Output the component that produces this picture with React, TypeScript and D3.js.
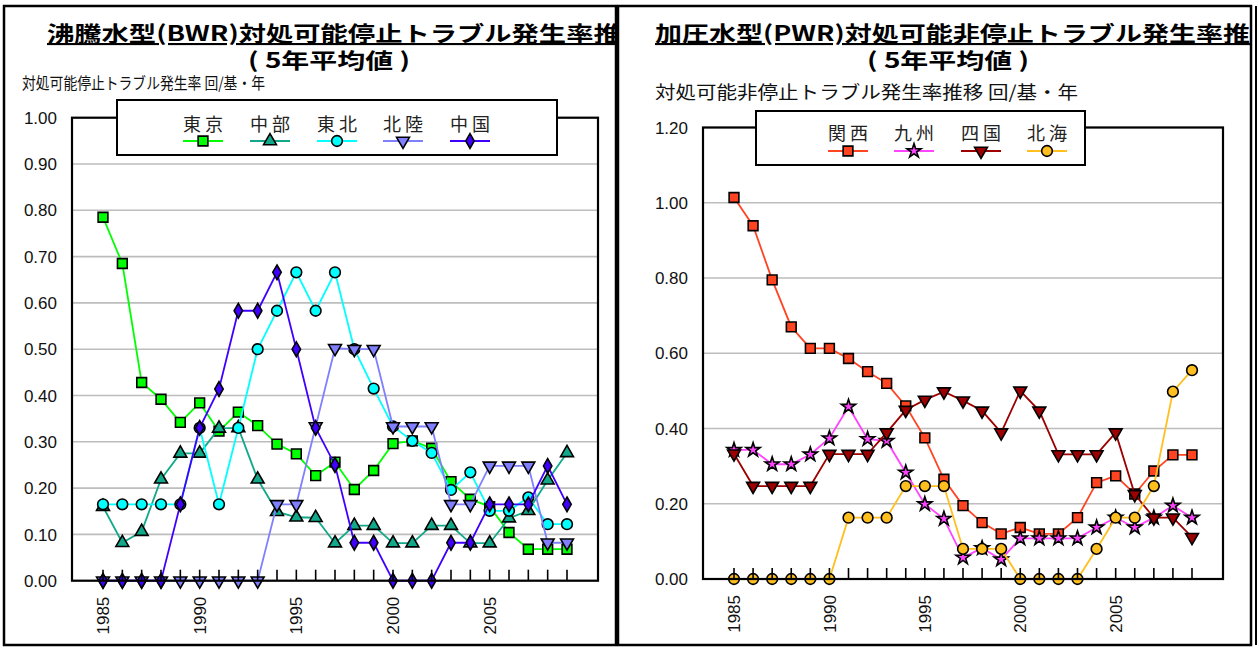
import React from "react";
import * as d3 from "d3";

const years = [1985, 1986, 1987, 1988, 1989, 1990, 1991, 1992, 1993, 1994, 1995, 1996, 1997, 1998, 1999, 2000, 2001, 2002, 2003, 2004, 2005, 2006, 2007, 2008, 2009];
const labelYears = [1985, 1990, 1995, 2000, 2005];

// BWR
const bwrNames = ["東京", "中部", "東北", "北陸", "中国"];
const tokyo = [0.785, 0.685, 0.428, 0.392, 0.342, 0.384, 0.323, 0.364, 0.335, 0.295, 0.274, 0.227, 0.256, 0.197, 0.238, 0.296, 0.302, 0.286, 0.214, 0.176, 0.16, 0.104, 0.068, 0.068, 0.068];
const chubu = [0.16, 0.082, 0.106, 0.219, 0.275, 0.275, 0.329, 0.33, 0.219, 0.149, 0.137, 0.136, 0.081, 0.119, 0.119, 0.081, 0.081, 0.119, 0.119, 0.081, 0.081, 0.135, 0.151, 0.217, 0.276];
const tohoku = [0.165, 0.165, 0.165, 0.165, 0.165, 0.33, 0.165, 0.33, 0.5, 0.583, 0.666, 0.583, 0.666, 0.5, 0.415, 0.333, 0.302, 0.276, 0.196, 0.234, 0.151, 0.151, 0.18, 0.122, 0.122];
const hokuriku = [0, 0, 0, 0, 0, 0, 0, 0, 0, 0.165, 0.165, 0.333, 0.502, 0.5, 0.5, 0.333, 0.333, 0.333, 0.165, 0.165, 0.248, 0.248, 0.248, 0.082, 0.082];
const chugoku = [0, 0, 0, 0, 0.165, 0.33, 0.414, 0.583, 0.583, 0.666, 0.5, 0.33, 0.25, 0.082, 0.082, 0, 0, 0, 0.082, 0.082, 0.165, 0.165, 0.165, 0.248, 0.165];

// PWR
const pwrNames = ["関西", "九州", "四国", "北海"];
const kansai = [1.014, 0.939, 0.795, 0.67, 0.613, 0.613, 0.586, 0.551, 0.52, 0.46, 0.375, 0.265, 0.195, 0.15, 0.12, 0.137, 0.12, 0.12, 0.163, 0.256, 0.274, 0.226, 0.287, 0.33, 0.33];
const kyushu = [0.343, 0.343, 0.305, 0.305, 0.331, 0.374, 0.458, 0.372, 0.367, 0.283, 0.199, 0.16, 0.057, 0.082, 0.052, 0.108, 0.108, 0.108, 0.108, 0.137, 0.163, 0.137, 0.163, 0.195, 0.163];
const shikoku = [0.333, 0.247, 0.247, 0.247, 0.247, 0.332, 0.332, 0.332, 0.389, 0.449, 0.476, 0.498, 0.474, 0.447, 0.389, 0.5, 0.447, 0.331, 0.331, 0.331, 0.389, 0.225, 0.163, 0.163, 0.111];
const hokkai = [0, 0, 0, 0, 0, 0, 0.163, 0.163, 0.163, 0.247, 0.247, 0.247, 0.08, 0.08, 0.08, 0, 0, 0, 0, 0.08, 0.163, 0.163, 0.247, 0.498, 0.555];

const bwrTicks = [0, 0.1, 0.2, 0.3, 0.4, 0.5, 0.6, 0.7, 0.8, 0.9, 1.0];
const pwrTicks = [0, 0.2, 0.4, 0.6, 0.8, 1.0, 1.2];

const FONT_JP = "'Noto Sans CJK JP', 'Noto Sans', sans-serif";
const FONT_NUM = "'Liberation Sans', Arial, sans-serif";

type Series = { name: string; values: number[]; color: string; symbol: string };

function symbolPath(kind: string): { d: string; rot: number } {
  switch (kind) {
    case "square":
      return { d: d3.symbol(d3.symbolSquare, 95)()!, rot: 0 };
    case "triangle":
      return { d: d3.symbol(d3.symbolTriangle, 72)()!, rot: 0 };
    case "triDown":
      return { d: d3.symbol(d3.symbolTriangle, 72)()!, rot: 180 };
    case "circle":
      return { d: d3.symbol(d3.symbolCircle, 90)()!, rot: 0 };
    case "diamond":
      return { d: d3.symbol(d3.symbolDiamond, 62)()!, rot: 0 };
    case "star":
      return { d: d3.symbol(d3.symbolStar, 62)()!, rot: 0 };
    default:
      return { d: d3.symbol(d3.symbolCircle, 90)()!, rot: 0 };
  }
}

type PanelCfg = {
  id: string;
  panel: { x: number; y: number; w: number; h: number };
  title1: string;
  title1Pos: { x: number; y: number; len: number };
  title2Pos: { x: number; y: number; len: number };
  yTitle: string;
  yTitlePos: { x: number; y: number; len: number; size: number };
  plot: { l: number; r: number; t: number; b: number };
  yMax: number;
  ticks: number[];
  series: Series[];
  legend: { x: number; y: number; w: number; h: number; centers: number[]; textY: number; lineY: number };
};

function Panel({ cfg }: { cfg: PanelCfg }) {
  const { plot } = cfg;
  const pad = 31;
  const x = d3.scaleLinear().domain([years[0], years[years.length - 1]]).range([plot.l + pad, plot.r - pad]);
  const y = d3.scaleLinear().domain([0, cfg.yMax]).range([plot.b, plot.t]);
  const fmt = d3.format(".2f");
  const clipId = `clip-${cfg.id}`;
  return (
    <g>
      <defs>
        <clipPath id={clipId}>
          <rect x={cfg.panel.x} y={cfg.panel.y} width={cfg.panel.w} height={cfg.panel.h} />
        </clipPath>
      </defs>
      <rect x={cfg.panel.x} y={cfg.panel.y} width={cfg.panel.w} height={cfg.panel.h} fill="#fff" stroke="#000" strokeWidth={2.5} />
      <g clipPath={`url(#${clipId})`}>
        <text
          x={cfg.title1Pos.x}
          y={cfg.title1Pos.y}
          textLength={cfg.title1Pos.len}
          lengthAdjust="spacingAndGlyphs"
          fontFamily={FONT_JP}
          fontWeight="bold"
          fontSize={21}
          style={{ textDecoration: "underline" }}
        >
          {cfg.title1}
        </text>
        <text
          x={cfg.title2Pos.x}
          y={cfg.title2Pos.y}
          textAnchor="middle"
          textLength={cfg.title2Pos.len}
          lengthAdjust="spacingAndGlyphs"
          fontFamily={FONT_JP}
          fontWeight="bold"
          fontSize={21}
          style={{ whiteSpace: "pre" }}
        >
          {"( 5年平均値 )"}
        </text>
      </g>
      <text
        x={cfg.yTitlePos.x}
        y={cfg.yTitlePos.y}
        textLength={cfg.yTitlePos.len}
        lengthAdjust="spacingAndGlyphs"
        fontFamily={FONT_JP}
        fontSize={cfg.yTitlePos.size}
        fill="#111"
      >
        {cfg.yTitle}
      </text>
      {/* gridlines */}
      {cfg.ticks.map((t) => (
        <line key={`g${t}`} x1={plot.l} x2={plot.r} y1={y(t)} y2={y(t)} stroke="#bdbdbd" strokeWidth={1.6} />
      ))}
      {/* y labels */}
      {cfg.ticks.map((t) => (
        <text
          key={`yl${t}`}
          x={plot.l - 15}
          y={y(t)}
          dy="0.36em"
          textAnchor="end"
          fontFamily={FONT_NUM}
          fontSize={17}
          fill="#111"
        >
          {fmt(t)}
        </text>
      ))}
      {/* series */}
      {cfg.series.map((s) => {
        const line = d3
          .line<number>()
          .x((_, i) => x(years[i]))
          .y((v) => y(v));
        const sym = symbolPath(s.symbol);
        return (
          <g key={s.name}>
            <path d={line(s.values)!} fill="none" stroke={s.color} strokeWidth={1.8} />
            {s.values.map((v, i) => (
              <path
                key={i}
                d={sym.d}
                transform={`translate(${x(years[i])},${y(v)}) rotate(${sym.rot})`}
                fill={s.color}
                stroke="#000"
                strokeWidth={1.6}
              />
            ))}
          </g>
        );
      })}
      {/* x ticks */}
      {years.map((yr) => (
        <line key={`t${yr}`} x1={x(yr)} x2={x(yr)} y1={plot.b} y2={plot.b - 11} stroke="#000" strokeWidth={1.6} />
      ))}
      {/* plot frame */}
      <rect x={plot.l} y={plot.t} width={plot.r - plot.l} height={plot.b - plot.t} fill="none" stroke="#000" strokeWidth={2.2} />
      {/* x labels */}
      {labelYears.map((yr) => (
        <text
          key={`xl${yr}`}
          transform={`translate(${x(yr)},${plot.b + 16}) rotate(-90)`}
          textAnchor="end"
          dy="0.36em"
          fontFamily={FONT_NUM}
          fontSize={17}
          fill="#111"
        >
          {yr}
        </text>
      ))}
      {/* legend */}
      <rect
        x={cfg.legend.x}
        y={cfg.legend.y}
        width={cfg.legend.w}
        height={cfg.legend.h}
        fill="#fff"
        stroke="#000"
        strokeWidth={2}
      />
      {cfg.series.map((s, i) => {
        const cx = cfg.legend.centers[i];
        const sym = symbolPath(s.symbol);
        return (
          <g key={`lg${s.name}`}>
            <text
              x={cx}
              y={cfg.legend.textY}
              textAnchor="middle"
              textLength={40}
              lengthAdjust="spacing"
              fontFamily={FONT_JP}
              fontSize={18}
              fill="#222"
            >
              {s.name}
            </text>
            <line x1={cx - 20} x2={cx + 20} y1={cfg.legend.lineY} y2={cfg.legend.lineY} stroke={s.color} strokeWidth={1.8} />
            <path
              d={sym.d}
              transform={`translate(${cx},${cfg.legend.lineY}) rotate(${sym.rot})`}
              fill={s.color}
              stroke="#000"
              strokeWidth={1.6}
            />
          </g>
        );
      })}
    </g>
  );
}

const bwrColors = ["#00ff00", "#12a88a", "#00ffff", "#8080ff", "#4000ff"];
const bwrSymbols = ["square", "triangle", "circle", "triDown", "diamond"];
const pwrColors = ["#ff4422", "#ff44ff", "#9c0000", "#ffbf1f"];
const pwrSymbols = ["square", "star", "triDown", "circle"];

const bwrValues = [tokyo, chubu, tohoku, hokuriku, chugoku];
const pwrValues = [kansai, kyushu, shikoku, hokkai];

const leftCfg: PanelCfg = {
  id: "bwr",
  panel: { x: 4, y: 6, w: 612, h: 639 },
  title1: "沸騰水型(BWR)対処可能停止トラブル発生率推移",
  title1Pos: { x: 47, y: 41, len: 601 },
  title2Pos: { x: 329, y: 68, len: 162 },
  yTitle: "対処可能停止トラブル発生率 回/基・年",
  yTitlePos: { x: 22, y: 89, len: 243, size: 16 },
  plot: { l: 72, r: 598, t: 117.7, b: 580.7 },
  yMax: 1.0,
  ticks: bwrTicks,
  series: bwrNames.map((n, i) => ({ name: n, values: bwrValues[i], color: bwrColors[i], symbol: bwrSymbols[i] })),
  legend: { x: 117, y: 100, w: 440, h: 55, centers: [203, 270, 337, 403, 470], textY: 131, lineY: 141 },
};

const rightCfg: PanelCfg = {
  id: "pwr",
  panel: { x: 618, y: 6, w: 633, h: 639 },
  title1: "加圧水型(PWR)対処可能非停止トラブル発生率推移",
  title1Pos: { x: 655, y: 41, len: 622 },
  title2Pos: { x: 948, y: 68, len: 162 },
  yTitle: "対処可能非停止トラブル発生率推移 回/基・年",
  yTitlePos: { x: 655, y: 99, len: 423, size: 18 },
  plot: { l: 703, r: 1223, t: 127.5, b: 579 },
  yMax: 1.2,
  ticks: pwrTicks,
  series: pwrNames.map((n, i) => ({ name: n, values: pwrValues[i], color: pwrColors[i], symbol: pwrSymbols[i] })),
  legend: { x: 756, y: 111, w: 329, h: 54, centers: [848, 914, 981, 1047], textY: 140, lineY: 151 },
};

export default function App() {
  return (
    <svg
      width={1259}
      height={648}
      style={{ position: "absolute", left: 0, top: 0, background: "#fff" }}
    >
      <rect x={0} y={0} width={1259} height={648} fill="#fff" />
      <Panel cfg={leftCfg} />
      <Panel cfg={rightCfg} />
      <line x1={1256} x2={1256} y1={6} y2={645} stroke="#000" strokeWidth={2} />
    </svg>
  );
}
